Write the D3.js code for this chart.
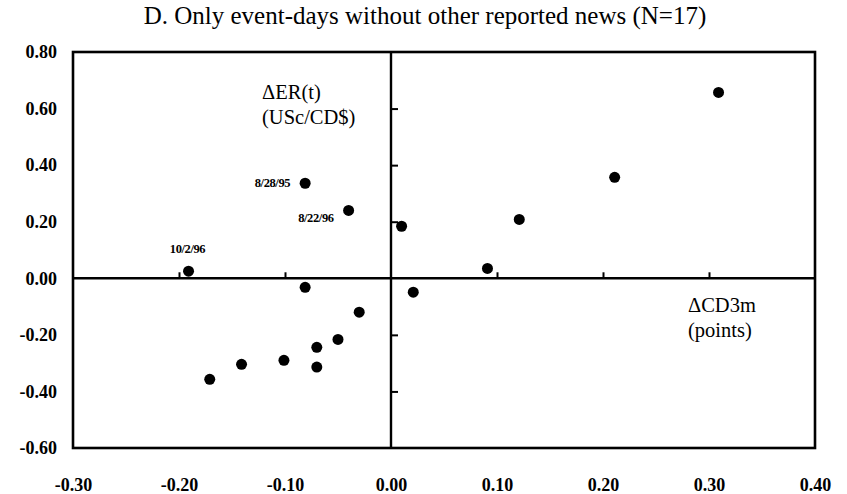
<!DOCTYPE html>
<html>
<head>
<meta charset="utf-8">
<script src="https://cdn.jsdelivr.net/npm/d3@7/dist/d3.min.js"></script>
<style>
  html, body { margin: 0; padding: 0; background: #fff; }
  svg { display: block; }
  text { font-family: "Liberation Serif", "Times New Roman", serif; fill: #000; }
</style>
</head>
<body>
<svg id="chart" width="847" height="494"></svg>
<script>
// Change in 3-month Canadian rate (points) vs change in exchange rate (USc/CD$)
const cd3mChange = [-0.191, -0.081, -0.040, -0.081, -0.030, -0.050, -0.070, -0.070, -0.101, -0.141, -0.171,
                    0.309, 0.211, 0.121, 0.010, 0.091, 0.021];
const erChange   = [0.025, 0.336, 0.240, -0.032, -0.120, -0.216, -0.244, -0.314, -0.290, -0.304, -0.357,
                    0.657, 0.357, 0.208, 0.184, 0.035, -0.049];
const eventDates = ["10/2/96", "8/28/95", "8/22/96", "", "", "", "", "", "", "", "",
                    "", "", "", "", "", ""];

const xTicks = [-0.30, -0.20, -0.10, 0.00, 0.10, 0.20, 0.30, 0.40];
const yTicks = [0.80, 0.60, 0.40, 0.20, 0.00, -0.20, -0.40, -0.60];
const xInnerTicks = [-0.20, -0.10, 0.10, 0.20, 0.30];
const yInnerTicks = [0.60, 0.40, 0.20, -0.20, -0.40];

const titleText = "D. Only event-days without other reported news (N=17)";

const svg = d3.select("#chart");
const frame = { left: 73, right: 815, top: 52, bottom: 448 };

const x = d3.scaleLinear().domain([-0.30, 0.40]).range([frame.left, frame.right]);
const y = d3.scaleLinear().domain([-0.60, 0.80]).range([frame.bottom, frame.top]);

svg.append("rect").attr("width", 847).attr("height", 494).attr("fill", "#fff");

// Title
svg.append("text")
  .attr("x", 425).attr("y", 24)
  .attr("text-anchor", "middle")
  .style("font-size", "25px")
  .text(titleText);

// Plot frame
svg.append("rect")
  .attr("x", frame.left).attr("y", frame.top)
  .attr("width", frame.right - frame.left).attr("height", frame.bottom - frame.top)
  .attr("fill", "none").attr("stroke", "#000").attr("stroke-width", 2.6);

// Zero cross-lines with inner ticks
const hAxis = svg.append("g")
  .attr("transform", `translate(0,${y(0)})`)
  .call(d3.axisTop(x).tickValues(xInnerTicks).tickSize(6).tickFormat(""));
hAxis.select(".domain").remove();
hAxis.append("line")
  .attr("x1", frame.left).attr("x2", frame.right)
  .attr("stroke", "#000").attr("stroke-width", 2.4);
hAxis.selectAll(".tick line").attr("stroke", "#000").attr("stroke-width", 2);

const vAxis = svg.append("g")
  .attr("transform", `translate(${x(0)},0)`)
  .call(d3.axisRight(y).tickValues(yInnerTicks).tickSize(7).tickFormat(""));
vAxis.select(".domain").remove();
vAxis.append("line")
  .attr("y1", frame.top).attr("y2", frame.bottom)
  .attr("stroke", "#000").attr("stroke-width", 2.4);
vAxis.selectAll(".tick line").attr("stroke", "#000").attr("stroke-width", 2);

// Outer tick labels (plain hyphen for negatives)
const fmt = d3.format(".2f");
const tickText = d => fmt(d).replace("\u2212", "-");

const yLab = svg.append("g")
  .attr("transform", `translate(${frame.left},0)`)
  .call(d3.axisLeft(y).tickValues(yTicks).tickSize(0).tickPadding(16).tickFormat(tickText));
yLab.select(".domain").remove();
yLab.selectAll("text")
  .style("font-family", "'Liberation Serif', serif")
  .style("font-size", "18px").style("font-weight", "bold").attr("fill", "#000");

const xLab = svg.append("g")
  .attr("transform", `translate(0,${frame.bottom})`)
  .call(d3.axisBottom(x).tickValues(xTicks).tickSize(0).tickPadding(30).tickFormat(tickText));
xLab.select(".domain").remove();
xLab.selectAll("text")
  .style("font-family", "'Liberation Serif', serif")
  .style("font-size", "18px").style("font-weight", "bold").attr("fill", "#000");

// Axis titles inside the plot
const axisTitle = (lines, px, py) => {
  lines.forEach((t, i) => {
    svg.append("text")
      .attr("x", px).attr("y", py + i * 25)
      .style("font-size", "20.5px")
      .text(t);
  });
};
axisTitle(["\u0394ER(t)", "(USc/CD$)"], 262, 99);
axisTitle(["\u0394CD3m", "(points)"], 688, 312);

// Points
const pts = cd3mChange.map((v, i) => ({ x: v, y: erChange[i], label: eventDates[i] }));
svg.append("g").selectAll("circle")
  .data(pts).join("circle")
  .attr("cx", d => x(d.x)).attr("cy", d => y(d.y))
  .attr("r", 5.5).attr("fill", "#000");

// Date labels for selected events
const labelOffsets = { "10/2/96": [-1, -18, "middle"], "8/28/95": [-15, 4, "end"], "8/22/96": [-15, 12, "end"] };
svg.append("g").selectAll("text")
  .data(pts.filter(d => d.label)).join("text")
  .attr("x", d => x(d.x) + labelOffsets[d.label][0])
  .attr("y", d => y(d.y) + labelOffsets[d.label][1])
  .attr("text-anchor", d => labelOffsets[d.label][2])
  .style("font-size", "12.5px").style("font-weight", "bold")
  .style("letter-spacing", "-0.4px")
  .text(d => d.label);
</script>
</body>
</html>
